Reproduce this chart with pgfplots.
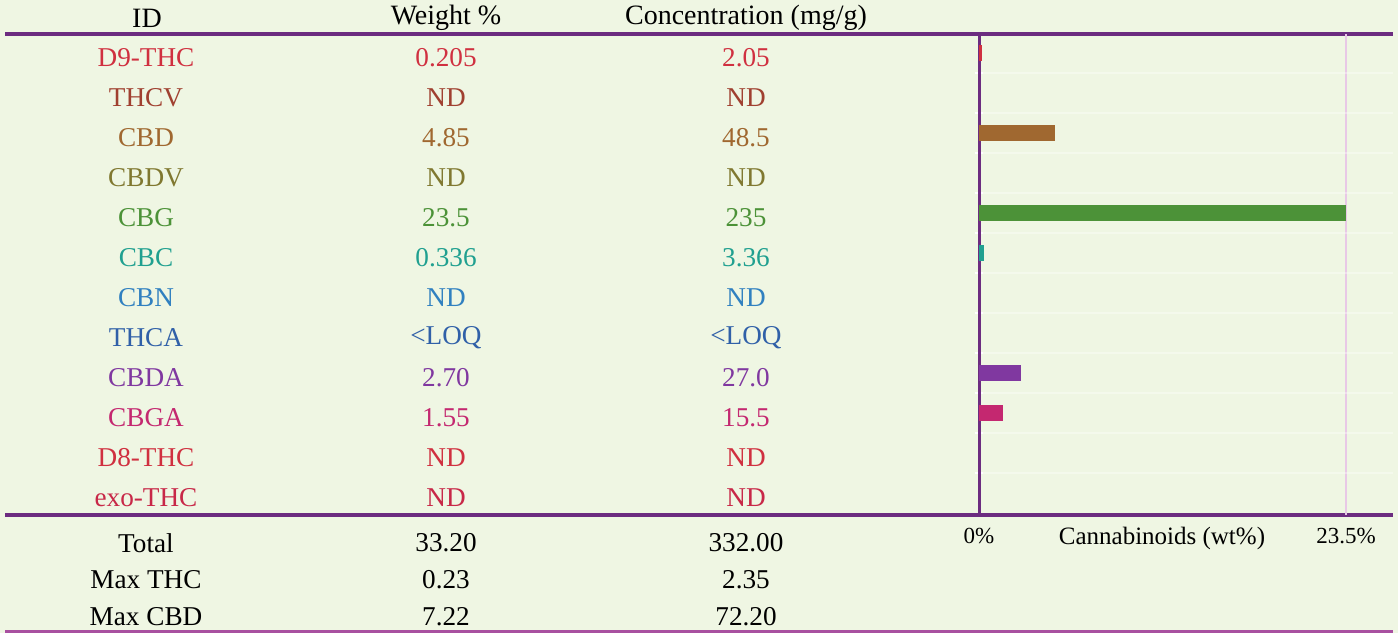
\documentclass[border=0pt]{standalone}
\usepackage{fontspec}
\setmainfont{Liberation Serif}
\usepackage{pgfplots}
\pgfplotsset{compat=1.18}

\definecolor{bg}{RGB}{239,246,227}
\definecolor{rule}{RGB}{108,44,128}
\definecolor{rulepink}{RGB}{168,80,160}
\definecolor{gridpink}{RGB}{232,200,230}
\definecolor{cD9}{RGB}{208,48,64}
\definecolor{cTHCV}{RGB}{160,64,48}
\definecolor{cCBD}{RGB}{160,104,48}
\definecolor{cCBDV}{RGB}{128,120,48}
\definecolor{cCBG}{RGB}{76,146,56}
\definecolor{cCBC}{RGB}{32,160,144}
\definecolor{cCBN}{RGB}{48,128,192}
\definecolor{cTHCA}{RGB}{48,96,168}
\definecolor{cCBDA}{RGB}{128,56,160}
\definecolor{cCBGA}{RGB}{196,40,112}
\definecolor{cD8}{RGB}{208,48,64}
\definecolor{cEXO}{RGB}{200,40,72}

\begin{document}
\begin{tikzpicture}[x=0.5pt,y=0.5pt]
\fill[bg] (0,0) rectangle (1398,633);

% rules across the table
\draw[rule, line width=2pt] (5,599) -- (1393,599);
\draw[rule, line width=2pt] (5,118) -- (1393,118);
\draw[rulepink, line width=1.5pt] (5,2) -- (1393,2);

\begin{axis}[
  at={(489.5pt,59pt)}, anchor=south west,
  scale only axis, width=207pt, height=240.5pt,
  xmin=0, xmax=26.51, ymin=0.525, ymax=12.55,
  y dir=reverse,
  xbar, bar width=7.6pt, bar shift=0pt,
  axis lines*=left,
  x axis line style={draw=none},
  y axis line style={draw=rule, line width=1.5pt},
  xtick={0,23.5}, xticklabels={0\%,23.5\%},
  xmajorgrids, x grid style={gridpink, line width=0.8pt},
  major x tick style={draw=none},
  xticklabel style={font=\fontsize{11.5}{14}\selectfont, anchor=base, yshift=-12pt},
  xlabel={Cannabinoids (wt\%)},
  xlabel style={font=\fontsize{12.5}{14}\selectfont, at={(axis description cs:0.442,0)}, anchor=base, yshift=-14.5pt},
  ytick={1.5,2.5,...,11.5}, yticklabels={},
  major y tick style={white, line width=0.8pt},
  major tick length=4pt, tick align=center,
  ymajorgrids, y grid style={white, line width=0.6pt, opacity=0.35},
  clip=false,
]
\addplot[fill=cD9, draw=none] coordinates {(0.205,1)};
\addplot[fill=cCBD, draw=none] coordinates {(4.85,3)};
\addplot[fill=cCBG, draw=none] coordinates {(23.5,5)};
\addplot[fill=cCBC, draw=none] coordinates {(0.336,6)};
\addplot[fill=cCBDA, draw=none] coordinates {(2.70,9)};
\addplot[fill=cCBGA, draw=none] coordinates {(1.55,10)};
\end{axis}

% header
\begin{scope}[every node/.style={font=\fontsize{14}{16}\selectfont, inner sep=0pt}]
\node at (147,615) {ID};
\node at (446,615) {Weight \%};
\node at (746,615) {Concentration (mg/g)};
\end{scope}

% rows
\begin{scope}[every node/.style={font=\fontsize{13.6}{16}\selectfont, inner sep=0pt}]
\foreach \y/\n/\w/\c/\col in {
  575/D9-THC/0.205/2.05/cD9,
  535/THCV/ND/ND/cTHCV,
  495/CBD/4.85/48.5/cCBD,
  455/CBDV/ND/ND/cCBDV,
  415/CBG/23.5/235/cCBG,
  375/CBC/0.336/3.36/cCBC,
  335/CBN/ND/ND/cCBN,
  295/THCA/<LOQ/<LOQ/cTHCA,
  255/CBDA/2.70/27.0/cCBDA,
  215/CBGA/1.55/15.5/cCBGA,
  175/D8-THC/ND/ND/cD8,
  135/exo-THC/ND/ND/cEXO}{
  \node[text=\col] at (146,\y) {\n};
  \node[text=\col] at (446,\y) {\w};
  \node[text=\col] at (746,\y) {\c};
}
\foreach \y/\n/\w/\c in {90/Total/33.20/332.00, 53/Max THC/0.23/2.35, 16/Max CBD/7.22/72.20}{
  \node at (146,\y) {\n};
  \node at (446,\y) {\w};
  \node at (746,\y) {\c};
}
\end{scope}

\pgfresetboundingbox
\useasboundingbox (0,0) rectangle (1398,633);
\end{tikzpicture}
\end{document}
